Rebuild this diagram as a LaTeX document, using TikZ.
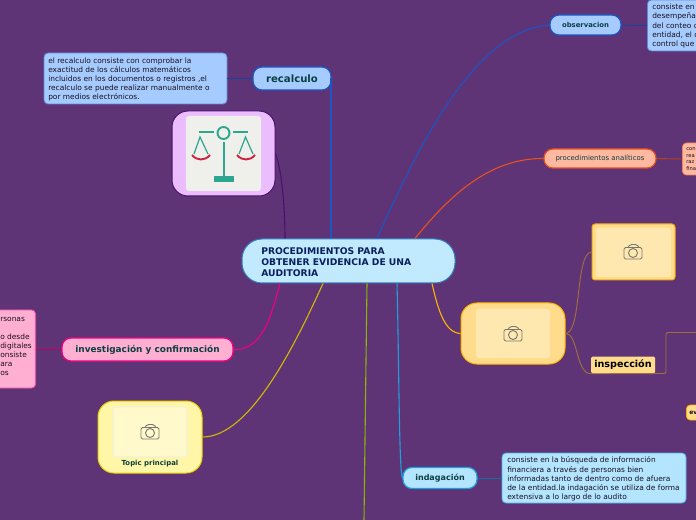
\documentclass[tikz,border=0pt]{standalone}
\usepackage{fontspec}
\setmainfont{DejaVu Sans}
\usetikzlibrary{positioning}
\definecolor{mapPurple}{HTML}{5F3476}
\definecolor{inkGreen}{HTML}{0B3F3F}
\definecolor{inkNavy}{HTML}{0A1F5C}
\definecolor{centerFill}{HTML}{C2EAFF}
\definecolor{centerLine}{HTML}{2F7FBF}
\definecolor{blueFill}{HTML}{A6CCFF}
\definecolor{blueLine}{HTML}{1A55C4}
\definecolor{lilacFill}{HTML}{EBBDFF}
\definecolor{lilacLine}{HTML}{4A1070}
\definecolor{salmonFill}{HTML}{FFB9A0}
\definecolor{salmonLine}{HTML}{E8501E}
\definecolor{amberFill}{HTML}{FFDC8C}
\definecolor{amberLine}{HTML}{FFB300}
\definecolor{amberInner}{HTML}{FFE8B0}
\definecolor{brownLine}{HTML}{A0703C}
\definecolor{skyFill}{HTML}{B3E5FF}
\definecolor{skyLine}{HTML}{1E9FE0}
\definecolor{pinkFill}{HTML}{FFB0D2}
\definecolor{pinkLine}{HTML}{F0007E}
\definecolor{lemonFill}{HTML}{FFF6A8}
\definecolor{lemonLine}{HTML}{E8D000}
\definecolor{lemonInner}{HTML}{FFF9CC}
\definecolor{limeLine}{HTML}{8CB400}
\definecolor{paperGrey}{HTML}{EFEFEB}
\definecolor{scaleTeal}{HTML}{2EA58E}
\definecolor{scaleRed}{HTML}{D0213F}
\definecolor{camGrey}{HTML}{77776F}
\def\px{0.75pt}
\begin{document}
\begin{tikzpicture}[
    x=0.75pt, y=-0.75pt,
    every node/.style={inner sep=0pt, font=\fontsize{5.58}{6.85}\selectfont},
    topic/.style={draw, rounded corners=9*\px, line width=1.2*\px, align=center, text=inkGreen, font=\fontsize{7.6}{9}\selectfont\bfseries},
    note/.style={draw, rounded corners=4*\px, line width=0.8*\px, align=left, text=black!75!mapPurple},
    notetext/.style={anchor=west, align=left, text=black!75!mapPurple},
    photo/.style={draw, rounded corners=16*\px, line width=1*\px},
    paper/.style={rounded corners=3*\px},
    conn/.style={line width=1.1*\px},
    camera/.pic={
        \draw[camGrey, line width=0.9*\px, rounded corners=1.5*\px] (-9,7) rectangle (9,-4.5);
        \draw[camGrey, line width=0.9*\px, rounded corners=1.5*\px] (-5,-4.5) -- (-3,-7.5) -- (4,-7.5) -- (6,-4.5);
        \draw[camGrey, line width=0.9*\px] (0,1) circle (4.5);
    }
]
    \useasboundingbox (0,0) rectangle (696,520);
    \clip (0,0) rectangle (696,520);
    \fill[mapPurple] (0,0) rectangle (696,520);

    % main topic and branches
    \node[draw=centerLine, fill=centerFill, line width=1*\px, rounded corners=20*\px, minimum width=213*\px, minimum height=44*\px] (central) at (348.5,261) {};
    \node[anchor=west, align=left, text=inkNavy, font=\fontsize{6.9}{8.4}\selectfont\bfseries] (centralText) at (261,262) {PROCEDIMIENTOS PARA\\OBTENER EVIDENCIA DE UNA\\AUDITORIA};

    \node[topic, draw=blueLine, fill=blueFill, minimum width=78*\px, minimum height=23*\px] (recalculo) at (292,78.5) {recalculo};
    \node[note, draw=blueLine!70, fill=blueFill, minimum width=183*\px, minimum height=51*\px] (recalculoNote) at (135.5,78.5) {};
    \node[notetext] (recalculoText) at (48,79.5) {el recalculo consiste con comprobar la\\exactitud de los cálculos matemáticos\\incluidos en los documentos o registros ,el\\recalculo se puede realizar manualmente o\\por medios electrónicos.};

    \node[photo, draw=lilacLine, fill=lilacFill, minimum width=103*\px, minimum height=85*\px] (balanza) at (223.5,153.5) {};

    \node[topic, draw=blueLine, fill=blueFill, minimum width=71*\px, minimum height=20*\px, font=\fontsize{5.15}{7}\selectfont\bfseries] (observacion) at (585.5,25) {observacion};
    \node[note, draw=blueLine!70, fill=blueFill, minimum width=60*\px, minimum height=51*\px, anchor=west] (observacionNote) at (647,25.5) {};
    \node[notetext] (observacionText) at (652,26) {consiste en\\desempeñad\\del conteo d\\entidad, el c\\control que};

    \node[topic, draw=salmonLine, fill=salmonFill, minimum width=112*\px, minimum height=19*\px, font=\fontsize{5.2}{7}\selectfont] (analiticos) at (600,158.5) {procedimientos analíticos};
    \node[note, draw=salmonLine!70, fill=salmonFill, minimum width=25*\px, minimum height=32*\px, anchor=west] (analiticosNote) at (682,159) {};
    \node[notetext, font=\fontsize{3.9}{4.8}\selectfont] (analiticosText) at (686,159) {con\\rea\\raz\\fina};

    \node[photo, draw=amberLine, fill=amberFill, minimum width=104*\px, minimum height=61*\px] (fotoNaranja) at (513,333.5) {};
    \node[draw=amberLine!80!brown, fill=amberFill, line width=1*\px, rounded corners=3*\px, minimum width=83*\px, minimum height=56*\px] (fotoArriba) at (633.5,252) {};
    \node[fill=amberFill, rounded corners=1.5*\px, minimum width=64*\px, minimum height=17*\px, text=black, font=\fontsize{7.2}{9}\selectfont\bfseries] (inspeccion) at (623,365) {inspección};
    \node[note, draw=amberLine, fill=amberFill, minimum width=20*\px, minimum height=15*\px, anchor=west] (evNote) at (686,412.5) {};
    \node[notetext, font=\fontsize{4.5}{6}\selectfont\bfseries] (evText) at (689,412.5) {ev};

    \node[topic, draw=skyLine, fill=skyFill, minimum width=74*\px, minimum height=21*\px, font=\fontsize{6}{8}\selectfont\bfseries] (indagacion) at (440,478) {indagación};
    \node[note, draw=skyLine!80, fill=skyFill, minimum width=184*\px, minimum height=50*\px] (indagacionNote) at (594,478) {};
    \node[notetext] (indagacionText) at (507,479) {consiste en la búsqueda de información\\financiera a través de personas bien\\informadas tanto de dentro como de afuera\\de la entidad.la indagación se utiliza de forma\\extensiva a lo largo de lo audito};

    \node[topic, draw=pinkLine, fill=pinkFill, minimum width=171*\px, minimum height=23*\px, font=\fontsize{6.7}{9}\selectfont\bfseries] (investigacion) at (147.5,349.5) {investigación y confirmación};
    \node[note, draw=pinkLine!70, fill=pinkFill, minimum width=60*\px, minimum height=78*\px, anchor=east] (investigacionNote) at (36,349) {};
    \node[notetext] (investigacionText) at (0,346.5) {rsonas\\\mbox{}\\o desde\\digitales\\onsiste\\ara\\os};

    \node[photo, draw=lemonLine, fill=lemonFill, minimum width=104*\px, minimum height=72*\px] (topico) at (150,437) {};
    \node[text=inkGreen, font=\fontsize{5.2}{6}\selectfont\bfseries] (topicoText) at (150,463.5) {Topic principal};

    \coordinate (limeEnd) at (364,521);

    % connectors
    \draw[conn, blueLine] (central.north -| 377,0) .. controls (425,130) and (480,30) .. (observacion.west);
    \draw[conn, blueLine] (recalculo.east) -- ++(0,0) -| (central.north -| 331,0);
    \draw[conn, lilacLine] (balanza.east) .. controls (282,170) and (285,210) .. (central.north -| 285,0);
    \draw[conn, salmonLine] (central.north -| 415,0) .. controls (450,195) and (490,158) .. (analiticos.west);
    \draw[conn, amberLine] (central.south -| 432,0) .. controls (438,310) and (445,333) .. (fotoNaranja.west);
    \draw[conn, skyLine] (central.south -| 397,0) .. controls (399,360) and (399,470) .. (indagacion.west);
    \draw[conn, limeLine] (central.south -| 367,0) .. controls (366,360) and (365,440) .. (limeEnd);
    \draw[conn, lemonLine!90!black] (central.south -| 323,0) .. controls (295,345) and (250,437) .. (topico.east);
    \draw[conn, pinkLine] (central.south -| 280,0) .. controls (270,320) and (262,350) .. (investigacion.east);
    \draw[line width=0.9*\px, blueLine!80!black] (recalculo.west) -- (recalculoNote.east);
    \draw[line width=0.9*\px, blueLine!80!black] (observacion.east) -- (observacionNote.west);
    \draw[line width=0.9*\px, salmonLine!80!black] (analiticos.east) -- (analiticosNote.west);
    \draw[line width=0.9*\px, skyLine!70!black] (indagacion.east) -- (indagacionNote.west);
    \draw[line width=0.9*\px, pinkLine!80!black] (investigacion.west) -- (investigacion.west -| investigacionNote.east);
    \draw[line width=0.9*\px, brownLine] (fotoNaranja.east) .. controls (582,333) and (575,253) .. (fotoArriba.west);
    \draw[line width=0.9*\px, brownLine] (fotoNaranja.east) .. controls (578,333) and (576,374) .. (inspeccion.south west);
    \draw[line width=0.9*\px, brownLine, rounded corners=2*\px] (inspeccion.south west) -- (666,373.5) -- (666,332.5) -- (696,332.5);

    % pictures inside the boxes
    \fill[paperGrey, paper] (186,116) rectangle (261,191);
    \fill[amberInner, paper] (476,309) rectangle (550,358);
    \fill[amberInner, paper] (596,228) rectangle (671,277);
    \fill[lemonInner, paper] (113,407) rectangle (187,457);
    \draw[black!8, rounded corners=3*\px] (113,407) rectangle (187,457);
    \pic at (513,334) {camera};
    \pic at (633,252) {camera};
    \pic at (150,432) {camera};

    \begin{scope}[scaleTeal, line width=2*\px]
        \draw[line width=1.9*\px] (223.5,133) circle (6);
        \draw (199,132.5) -- (214,132.5) (233,132.5) -- (248,132.5);
        \draw (223.5,142) -- (223.5,176);
        \fill (214,176) rectangle (233.5,182);
        \draw[line width=1.2*\px] (194,154) -- (200,137) -- (208,154);
        \draw[line width=1.2*\px] (239,154) -- (245.5,137) -- (253,154);
    \end{scope}
    \draw[scaleRed, line width=1.9*\px] (192,155) .. controls (197,161) and (205,161) .. (210,155);
    \draw[scaleRed, line width=1.9*\px] (237,155) .. controls (242,161) and (250,161) .. (255,155);
\end{tikzpicture}
\end{document}
